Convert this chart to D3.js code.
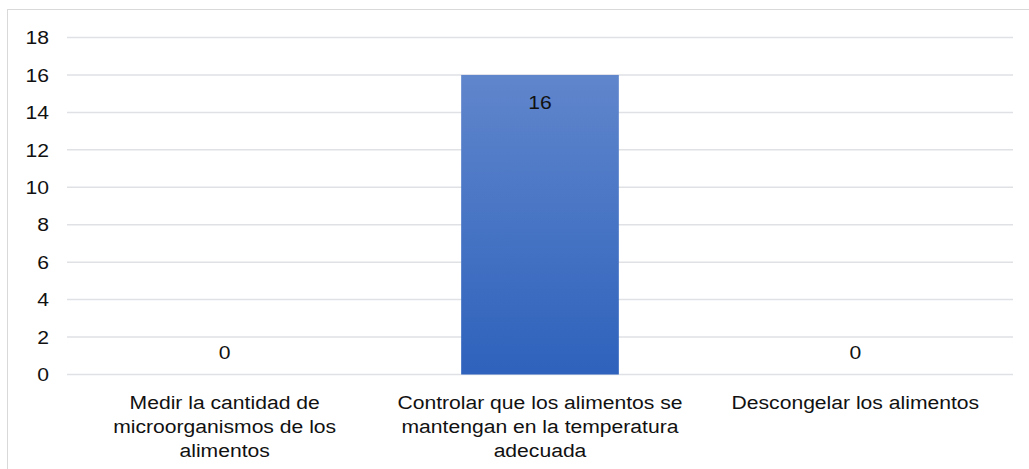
<!DOCTYPE html>
<html><head><meta charset="utf-8">
<script src="https://cdn.jsdelivr.net/npm/d3@7"></script>
<style>html,body{margin:0;padding:0;background:#fff;}svg{display:block;font-family:"Liberation Sans",Arial,sans-serif;}</style>
</head><body>
<script>
const categories = [
  ["Medir la cantidad de", "microorganismos de los", "alimentos"],
  ["Controlar que los alimentos se", "mantengan en la temperatura", "adecuada"],
  ["Descongelar los alimentos"]
];
const values = [0, 16, 0];
const yTicks = [0, 2, 4, 6, 8, 10, 12, 14, 16, 18];

const W = 1029, H = 469;
const FS = 19.2, SX = 1.1;
const svg = d3.select("body").append("svg").attr("width", W).attr("height", H);

const defs = svg.append("defs");
const grad = defs.append("linearGradient").attr("id", "bg").attr("x1", 0).attr("y1", 0).attr("x2", 0).attr("y2", 1);
grad.append("stop").attr("offset", "0%").attr("stop-color", "#6086cc");
grad.append("stop").attr("offset", "100%").attr("stop-color", "#2e62bc");

svg.append("rect").attr("x", 7.5).attr("y", 9.5).attr("width", 1030).attr("height", 470)
  .attr("fill", "none").attr("stroke", "#d9d9d9").attr("stroke-width", 1);

const x0 = 67, x1 = 1013;
const idx = categories.map((d, i) => i);
const x = d3.scaleBand().domain(idx).range([x0, x1]).paddingInner(0).paddingOuter(0);
const y = d3.scaleLinear().domain([0, 18]).range([374.5, 37.5]);

function txt(g, tx, ty, s, anchor) {
  g.append("text").attr("transform", `translate(${tx},${ty}) scale(${SX},1)`)
    .attr("dy", "0.35em").attr("text-anchor", anchor).attr("font-size", FS).attr("fill", "#111").text(s);
}

svg.append("g").selectAll("line").data(yTicks).join("line")
  .attr("x1", x0).attr("x2", x1).attr("y1", d => y(d)).attr("y2", d => y(d))
  .attr("stroke", "#dfe1e5").attr("stroke-width", 1.5);

const gy = svg.append("g");
yTicks.forEach(d => txt(gy, 49, y(d), d, "end"));

const bw = x.bandwidth() * 0.5;
svg.append("g").selectAll("rect").data(idx).join("rect")
  .attr("x", i => x(i) + (x.bandwidth() - bw) / 2).attr("width", bw)
  .attr("y", i => y(values[i])).attr("height", i => y(0) - y(values[i]))
  .attr("fill", "url(#bg)");

const gv = svg.append("g");
idx.forEach(i => txt(gv, x(i) + x.bandwidth() / 2, values[i] > 0 ? y(values[i]) + 27 : y(values[i]) - 22, values[i], "middle"));

const gl = svg.append("g");
idx.forEach(i => categories[i].forEach((line, k) => txt(gl, x(i) + x.bandwidth() / 2, 402 + k * 24, line, "middle")));
</script>
</body></html>
